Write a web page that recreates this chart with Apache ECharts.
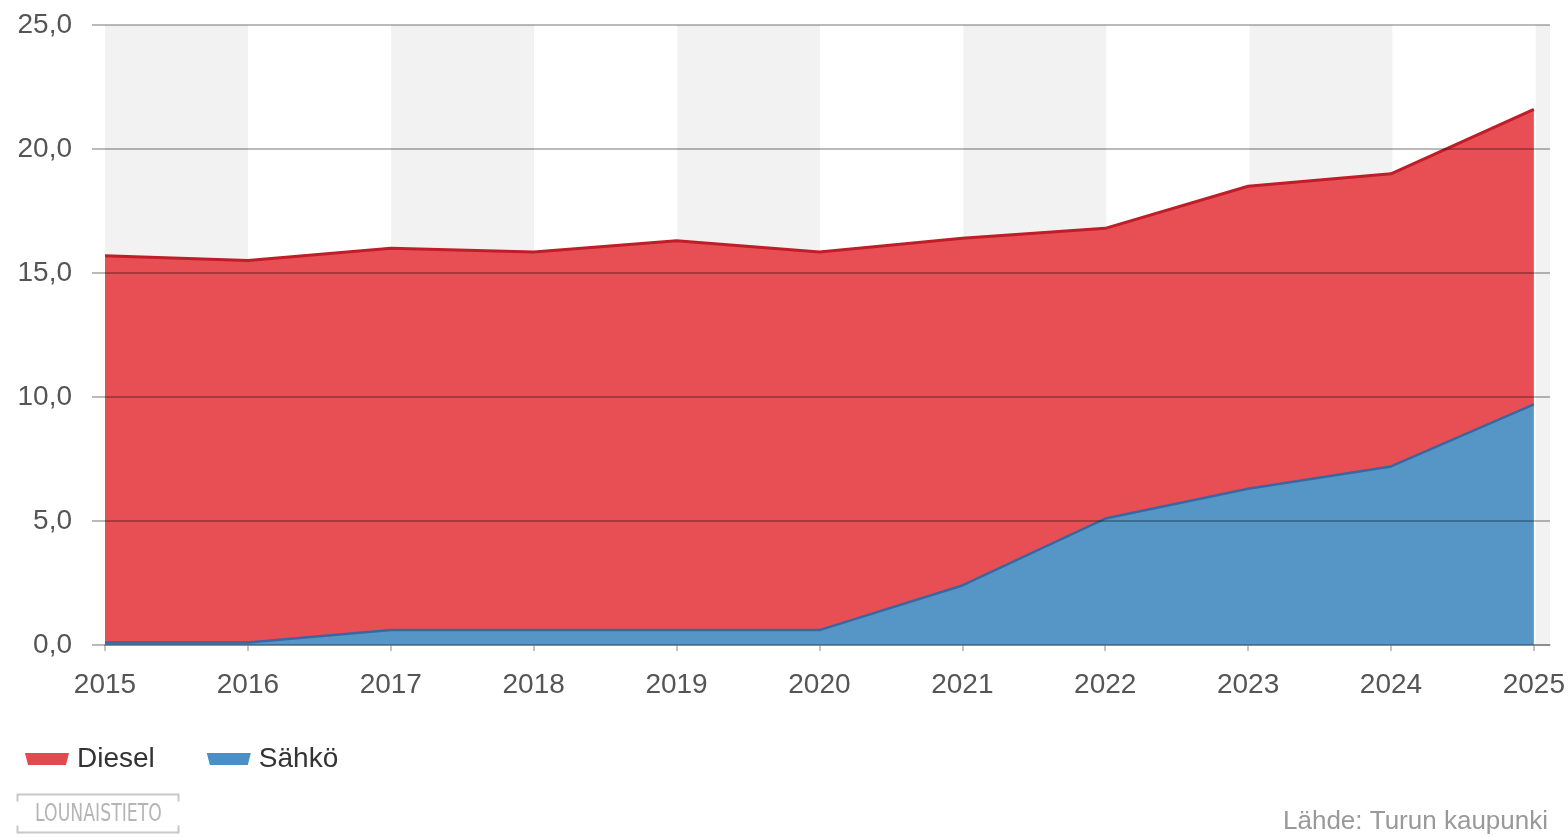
<!DOCTYPE html>
<html>
<head>
<meta charset="utf-8">
<script src="https://cdn.jsdelivr.net/npm/echarts@6/dist/echarts.min.js"></script>
<style>
html,body{margin:0;padding:0;background:#fff;}
#chart{width:1568px;height:837px;}
</style>
</head>
<body>
<div id="chart"></div>
<script>
const years = ['2015', '2016', '2017', '2018', '2019', '2020', '2021', '2022', '2023', '2024', '2025'];
const sahko = [0.1, 0.1, 0.6, 0.6, 0.6, 0.6, 2.4, 5.1, 6.3, 7.2, 9.7];
const diesel = [15.6, 15.4, 15.4, 15.25, 15.7, 15.25, 14.0, 11.7, 12.2, 11.8, 11.9];
const yTicks = [0, 5, 10, 15, 20, 25];
const seriesNames = ['Diesel', 'Sähkö'];
const sourceText = 'Lähde: Turun kaupunki';
const logoText = 'LOUNAISTIETO';

const chart = echarts.init(document.getElementById('chart'), null, {renderer: 'canvas'});
const fontFam = '"Liberation Sans", Arial, sans-serif';
const gridColor = 'rgba(0,0,0,0.36)';

chart.setOption({
  animation: false,
  backgroundColor: '#fff',
  grid: [
    {left: 105, right: 18, top: 25, bottom: 192, containLabel: false},
    {left: 105, right: 33, top: 25, bottom: 192, containLabel: false}
  ],
  xAxis: [
    {
      gridIndex: 0,
      type: 'value',
      min: 0,
      max: 10.1,
      interval: 1,
      z: 0,
      axisLine: {show: true, lineStyle: {color: '#b0b0b0', width: 1.5}},
      axisTick: {show: false},
      axisLabel: {show: false},
      splitLine: {show: false},
      splitArea: {show: true, areaStyle: {color: ['#f2f2f2', '#ffffff']}}
    },
    {
      gridIndex: 1,
      type: 'category',
      data: years,
      boundaryGap: false,
      z: 5,
      axisLine: {show: false},
      axisTick: {show: true, length: 6, alignWithLabel: true, lineStyle: {color: '#b0b0b0', width: 1.5}},
      axisLabel: {color: '#555', fontSize: 28, fontFamily: fontFam, margin: 26, interval: 0},
      splitLine: {show: false},
      splitArea: {show: false}
    }
  ],
  yAxis: [
    {
      gridIndex: 0,
      type: 'value',
      min: 0,
      max: 25,
      interval: 5,
      z: 10,
      axisLine: {show: false},
      axisTick: {show: true, length: 13, lineStyle: {color: gridColor, width: 1.5}},
      axisLabel: {
        color: '#555', fontSize: 28, fontFamily: fontFam, margin: 33,
        formatter: v => yTicks.includes(v) ? v.toFixed(1).replace('.', ',') : ''
      },
      splitLine: {show: true, lineStyle: {color: gridColor, width: 1.5}}
    },
    {
      gridIndex: 1,
      type: 'value',
      min: 0,
      max: 25,
      interval: 5,
      show: false
    }
  ],
  legend: {
    data: seriesNames,
    left: 20,
    top: 740,
    itemWidth: 44,
    itemHeight: 12,
    itemGap: 52,
    icon: 'path://M0,0 L44,0 L41,12 L3,12 Z',
    textStyle: {color: '#333', fontSize: 28, fontFamily: fontFam, padding: [0, 0, 0, 3]}
  },
  series: [
    {
      name: seriesNames[1],
      type: 'line',
      xAxisIndex: 1,
      yAxisIndex: 1,
      stack: 'total',
      data: sahko,
      symbol: 'none',
      lineStyle: {color: '#3a679f', width: 2.5},
      itemStyle: {color: '#4b8fc6'},
      areaStyle: {color: '#5596c6', opacity: 1},
      z: 2
    },
    {
      name: seriesNames[0],
      type: 'line',
      xAxisIndex: 1,
      yAxisIndex: 1,
      stack: 'total',
      data: diesel,
      symbol: 'none',
      lineStyle: {color: '#bf1d28', width: 3},
      itemStyle: {color: '#e34a4f'},
      areaStyle: {color: '#e74f54', opacity: 1},
      z: 2
    }
  ],
  graphic: [
    {
      type: 'text',
      right: 20,
      top: 809,
      style: {text: sourceText, fill: '#999', font: '26px ' + fontFam}
    },
    {
      type: 'group',
      left: 15,
      top: 792,
      children: [
        {type: 'polyline', shape: {points: [[1, 8], [1, 1], [162, 1], [162, 8]]}, style: {stroke: '#c8c8c8', lineWidth: 2, fill: null}},
        {type: 'polyline', shape: {points: [[1, 32], [1, 39], [162, 39], [162, 32]]}, style: {stroke: '#c8c8c8', lineWidth: 2, fill: null}},
        {type: 'text', x: 82, y: 21, scaleX: 0.72, originX: 0, originY: 0, style: {text: logoText, fill: '#b5b5b5', font: '24px "DejaVu Sans", sans-serif', align: 'center', verticalAlign: 'middle'}}
      ]
    }
  ]
});
</script>
</body>
</html>
